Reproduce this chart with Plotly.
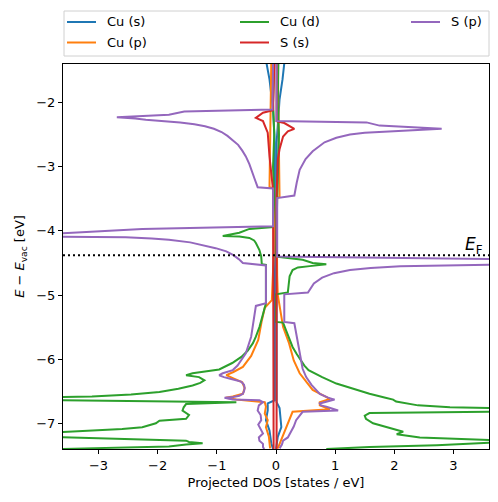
import plotly.graph_objects as go

# ---------------- data (energy in eV, projected DOS in states/eV; spin-down drawn negative) -------------
E_FERMI = -4.38

cu_s_up_E = [-1.39, -1.64, -1.95, -2.37, -2.63, -6.67, -6.76, -7.06, -7.21, -7.40]
cu_s_up = [0.14, 0.11, 0.06, 0.03, 0.01, 0.01, 0.06, 0.09, 0.03, 0.00]
cu_s_dn_E = [-1.39, -1.64, -2.11, -2.63, -6.64, -6.69, -6.80, -6.95, -7.11, -7.31, -7.40]
cu_s_dn = [-0.16, -0.11, -0.05, -0.02, -0.02, -0.14, -0.14, -0.17, -0.11, -0.08, -0.05]

cu_p_up_E = [-1.39, -2.84, -3.47, -3.49, -4.40, -4.70, -5.00, -5.50, -5.75, -6.02, -6.22, -6.48,
             -6.62, -6.67, -6.72, -6.78, -6.82, -7.00, -7.19, -7.39]
cu_p_up = [0.03, 0.05, 0.06, 0.01, 0.01, 0.02, 0.03, 0.12, 0.22, 0.30, 0.40, 0.62,
           0.91, 0.74, 0.74, 0.91, 0.28, 0.20, 0.12, 0.03]
cu_p_dn_E = [-1.39, -2.89, -3.32, -3.34, -4.40, -5.08, -5.20, -5.40, -5.70, -5.95, -6.12, -6.20,
             -6.25, -6.30, -6.36, -6.45, -6.54, -6.58, -6.60, -6.63, -6.67, -6.74, -6.85, -6.95,
             -7.06, -7.21, -7.39]
cu_p_dn = [-0.08, -0.10, -0.11, -0.03, -0.04, -0.07, -0.19, -0.24, -0.30, -0.42, -0.56, -0.72,
           -0.84, -0.72, -0.57, -0.53, -0.56, -0.73, -0.85, -0.67, -0.19, -0.17, -0.19, -0.14,
           -0.17, -0.12, -0.10]

cu_d_up_E = [-1.39, -2.00, -2.50, -3.00, -3.50, -4.40, -4.43, -4.45, -4.50, -4.52, -4.55, -4.57,
             -4.61, -4.71, -4.96, -4.99, -5.42, -5.43, -5.55, -5.70, -5.81, -5.92, -6.02, -6.10,
             -6.17, -6.28, -6.38, -6.46, -6.54, -6.60, -6.63, -6.66, -6.69, -6.72, -6.75, -6.77,
             -6.79, -6.82, -6.84, -6.88, -6.93, -7.00, -7.05, -7.08, -7.13, -7.17, -7.22, -7.26,
             -7.28, -7.30, -7.34, -7.37, -7.40]
cu_d_up = [0.04, 0.03, 0.05, 0.03, 0.02, 0.00, 0.30, 0.45, 0.62, 0.85, 0.57, 0.37,
           0.28, 0.23, 0.20, 0.00, 0.00, 0.12, 0.17, 0.23, 0.28, 0.35, 0.42, 0.48,
           0.55, 0.78, 1.02, 1.30, 1.58, 1.85, 1.98, 2.03, 2.20, 2.40, 2.94, 3.62,
           5.00, 3.62, 1.58, 1.50, 1.52, 1.64, 1.85, 1.98, 2.15, 2.04, 2.43, 3.62,
           5.00, 3.62, 2.72, 1.58, 0.85]
cu_d_dn_E = [-1.39, -2.00, -2.50, -3.00, -3.50, -3.94, -3.97, -4.03, -4.08, -4.09, -4.11, -4.15,
             -4.19, -4.25, -4.30, -4.40, -4.52, -4.53, -5.13, -5.30, -5.50, -5.65, -5.75, -5.87,
             -5.96, -6.06, -6.16, -6.22, -6.25, -6.28, -6.33, -6.37, -6.41, -6.46, -6.51, -6.55,
             -6.58, -6.59, -6.62, -6.64, -6.67, -6.70, -6.75, -6.80, -6.84, -6.87, -6.93, -6.96,
             -7.00, -7.06, -7.09, -7.12, -7.14, -7.18, -7.21, -7.25, -7.27, -7.29, -7.31, -7.33,
             -7.36, -7.40]
cu_d_dn = [-0.03, -0.05, -0.03, -0.05, -0.03, -0.05, -0.45, -0.62, -0.90, -0.62, -0.45, -0.37,
           -0.34, -0.30, -0.28, -0.25, -0.24, -0.17, -0.17, -0.22, -0.28, -0.34, -0.39, -0.48,
           -0.58, -0.74, -0.96, -1.41, -1.52, -1.30, -1.21, -1.28, -1.41, -1.65, -1.97, -2.45,
           -3.11, -3.67, -5.00, -3.67, -0.67, -1.52, -1.56, -1.58, -1.52, -1.47, -1.52, -1.97,
           -2.03, -2.26, -2.60, -3.11, -3.67, -5.00, -3.67, -1.97, -1.52, -1.47, -1.24, -1.52,
           -1.81, -3.67]

s_s_up_E = [-1.39, -2.29, -2.32, -2.37, -2.41, -2.45, -2.53, -2.73, -2.89, -3.50, -7.40]
s_s_up = [0.01, 0.01, 0.14, 0.23, 0.31, 0.20, 0.12, 0.06, 0.03, 0.01, 0.01]
s_s_dn_E = [-1.39, -2.12, -2.16, -2.24, -2.29, -2.47, -2.84, -3.36, -7.40]
s_s_dn = [-0.03, -0.05, -0.22, -0.34, -0.22, -0.14, -0.11, -0.05, -0.04]

s_p_up_E = [-1.39, -2.29, -2.31, -2.36, -2.41, -2.42, -2.44, -2.45, -2.47, -2.50, -2.55, -2.62,
            -2.70, -2.76, -2.88, -3.05, -3.25, -3.45, -3.49, -4.40, -4.44, -4.47, -4.53, -4.55,
            -4.58, -4.61, -4.66, -4.73, -4.82, -4.94, -4.96, -4.99, -5.42, -5.44, -5.86, -6.15,
            -6.28, -6.40, -6.54, -6.60, -6.63, -6.66, -6.69, -6.72, -6.74, -6.80, -6.82, -6.88,
            -6.95, -7.05, -7.16, -7.22, -7.27, -7.33, -7.39]
s_p_up = [0.01, 0.01, 1.53, 1.75, 2.80, 2.55, 2.15, 1.85, 1.50, 1.25, 1.02, 0.82,
          0.70, 0.62, 0.50, 0.40, 0.35, 0.31, 0.02, 0.02, 3.62, 4.50, 3.62, 2.10,
          1.60, 1.25, 0.98, 0.78, 0.64, 0.55, 0.54, 0.14, 0.14, 0.31, 0.40, 0.45,
          0.51, 0.60, 0.74, 0.88, 0.99, 0.85, 0.74, 0.76, 0.85, 1.05, 0.45, 0.40,
          0.34, 0.30, 0.23, 0.20, 0.12, 0.10, 0.06]
s_p_dn_E = [-1.39, -2.11, -2.14, -2.19, -2.23, -2.24, -2.25, -2.27, -2.29, -2.31, -2.34, -2.37,
            -2.41, -2.46, -2.52, -2.58, -2.66, -2.75, -2.84, -2.96, -3.10, -3.22, -3.32, -3.34,
            -3.93, -3.97, -4.04, -4.06, -4.09, -4.10, -4.12, -4.14, -4.18, -4.22, -4.27, -4.32,
            -4.38, -4.44, -4.50, -4.54, -5.13, -5.17, -5.40, -5.65, -5.91, -6.02, -6.10, -6.17,
            -6.22, -6.25, -6.28, -6.30, -6.35, -6.40, -6.45, -6.50, -6.54, -6.57, -6.59, -6.60,
            -6.62, -6.63, -6.64, -6.67, -6.72, -6.80, -6.87, -6.95, -7.02, -7.06, -7.12, -7.16,
            -7.22, -7.27, -7.32, -7.37, -7.40]
s_p_dn = [-0.05, -0.06, -1.55, -1.81, -2.69, -2.50, -2.38, -2.20, -1.90, -1.62, -1.38, -1.20,
          -1.05, -0.92, -0.82, -0.74, -0.64, -0.57, -0.51, -0.45, -0.39, -0.35, -0.31, -0.05,
          -0.05, -2.26, -3.67, -4.50, -3.67, -2.54, -2.10, -1.81, -1.45, -1.25, -1.02, -0.84,
          -0.72, -0.63, -0.56, -0.17, -0.17, -0.34, -0.38, -0.42, -0.51, -0.59, -0.65, -0.73,
          -0.90, -0.96, -0.88, -0.79, -0.59, -0.54, -0.53, -0.54, -0.56, -0.62, -0.72, -0.87,
          -0.80, -0.73, -0.28, -0.22, -0.29, -0.31, -0.26, -0.25, -0.30, -0.28, -0.24, -0.22,
          -0.29, -0.28, -0.22, -0.22, -0.20]

labels = ["Cu (s)", "Cu (p)", "Cu (d)", "S (s)", "S (p)"]
colors = ["#1f77b4", "#ff7f0e", "#2ca02c", "#d62728", "#9467bd"]
series = [
    ((cu_s_up_E, cu_s_up), (cu_s_dn_E, cu_s_dn)),
    ((cu_p_up_E, cu_p_up), (cu_p_dn_E, cu_p_dn)),
    ((cu_d_up_E, cu_d_up), (cu_d_dn_E, cu_d_dn)),
    ((s_s_up_E, s_s_up), (s_s_dn_E, s_s_dn)),
    ((s_p_up_E, s_p_up), (s_p_dn_E, s_p_dn)),
]

fig = go.Figure()
for lab, col, (up, dn) in zip(labels, colors, series):
    for E, d in (up, dn):
        fig.add_trace(go.Scatter(
            x=d, y=E, mode="lines", name=lab, legendgroup=lab, showlegend=False,
            line=dict(color=col, width=2),
        ))

fig.add_shape(type="line", xref="paper", x0=0, x1=1, yref="y", y0=E_FERMI, y1=E_FERMI,
              line=dict(color="black", width=2, dash="2px,3px"))
fig.add_annotation(x=3.53, y=E_FERMI, xref="x", yref="y", text="<i>E</i><sub>F</sub>",
                   showarrow=False, xanchor="right", yanchor="bottom",
                   font=dict(size=17, color="black"), yshift=-4)

# ---------------- legend (3 columns, column-major like matplotlib ncol=3) ----------------
W, H = 498, 502
ML, MR, MT, MB = 63, 9, 64, 53
PW, PH = W - ML - MR, H - MT - MB


def px2paper_x(px):
    return (px - ML) / PW


def px2paper_y(py):
    return (H - MB - py) / PH


fig.add_shape(type="rect", xref="paper", yref="paper",
              x0=px2paper_x(64), x1=px2paper_x(489), y0=px2paper_y(56), y1=px2paper_y(11),
              line=dict(color="#d0d0d0", width=1), fillcolor="white", layer="above")
col_x = [67, 240, 411]
row_y = [22, 42.5]
for i, (lab, col) in enumerate(zip(labels, colors)):
    c, r = divmod(i, 2)
    x0 = col_x[c]
    y = row_y[r]
    fig.add_shape(type="line", xref="paper", yref="paper",
                  x0=px2paper_x(x0), x1=px2paper_x(x0 + 29), y0=px2paper_y(y), y1=px2paper_y(y),
                  line=dict(color=col, width=2), layer="above")
    fig.add_annotation(xref="paper", yref="paper", x=px2paper_x(x0 + 38), y=px2paper_y(y),
                       text=lab, showarrow=False, xanchor="left", yanchor="middle",
                       font=dict(size=13, color="black"))

axis_common = dict(showgrid=False, zeroline=False, showline=True, mirror=True,
                   linecolor="black", linewidth=1, ticks="outside", ticklen=4,
                   tickcolor="black", tickfont=dict(size=13, color="black"), automargin=False)
fig.update_xaxes(range=[-3.6, 3.6], tickvals=[-3, -2, -1, 0, 1, 2, 3],
                 title=dict(text="Projected DOS [states / eV]", font=dict(size=13, color="black"),
                            standoff=6),
                 **axis_common)
fig.update_yaxes(range=[-7.4, -1.4], tickvals=[-7, -6, -5, -4, -3, -2],
                 title=dict(text="<i>E</i> − <i>E</i><sub>vac</sub> [eV]",
                            font=dict(size=13, color="black"), standoff=8),
                 **axis_common)

fig.update_layout(
    width=W, height=H,
    margin=dict(l=ML, r=MR, t=MT, b=MB, autoexpand=False),
    plot_bgcolor="white", paper_bgcolor="white",
    font=dict(family="DejaVu Sans", size=13, color="black"),
    showlegend=False,
)

fig.write_html("out.html",
               config={"displayModeBar": False},
               post_script="document.body.style.margin='0';document.body.style.overflow='hidden';")
